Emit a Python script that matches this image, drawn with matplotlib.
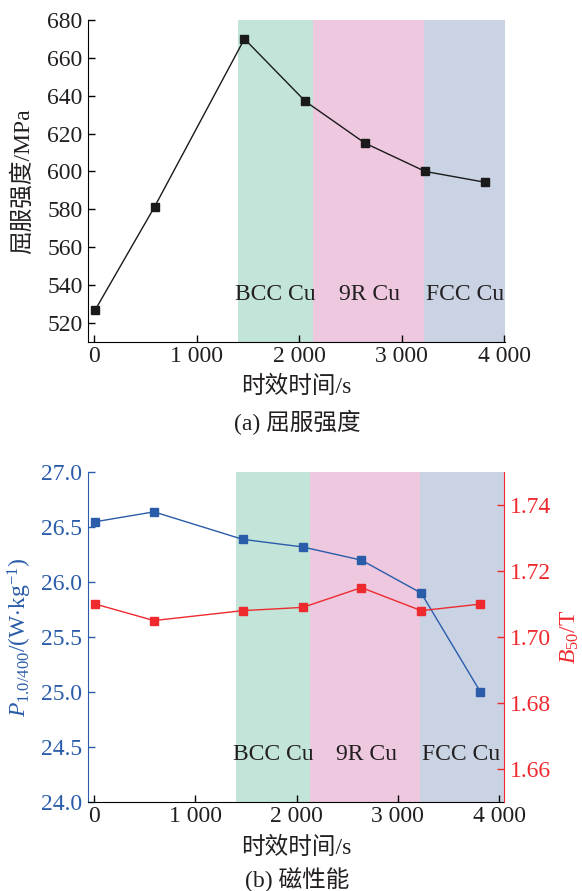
import matplotlib
matplotlib.use("Agg")
import matplotlib.pyplot as plt

# Fonts: serif for latin text, CJK fallback for Chinese
plt.rcParams['font.family'] = ['Liberation Serif', 'Noto Sans CJK SC']
plt.rcParams['font.size'] = 17
plt.rcParams['mathtext.fontset'] = 'custom'
plt.rcParams['mathtext.rm'] = 'Liberation Serif'
plt.rcParams['mathtext.it'] = 'Liberation Serif:italic'
plt.rcParams['axes.unicode_minus'] = False

# Data
# ----
aging_time = [10, 590, 1465, 2060, 2640, 3230, 3815]
yield_strength = [527, 581.5, 670, 637, 615, 600, 594.3]
core_loss = [26.55, 26.64, 26.39, 26.32, 26.2, 25.9, 25.0]
b50 = [1.710, 1.705, 1.708, 1.709, 1.715, 1.708, 1.710]

x_ticks = [0, 1000, 2000, 3000, 4000]
x_tick_labels = ['0', '1 000', '2 000', '3 000', '4 000']

phase_names = ['BCC Cu', '9R Cu', 'FCC Cu']
phase_edges = [1405, 2130, 3215]
phase_label_x = [1770, 2685, 3620]
phase_colors = ['#c2e4d9', '#edc8de', '#c9d3e4']

blue = '#2a5caa'
red = '#ee2a2f'
ink = '#231f20'


def shade_phases(ax, x_end, label_y):
    edges = phase_edges + [x_end]
    for i in range(3):
        ax.axvspan(edges[i], edges[i + 1], color=phase_colors[i], lw=0, zorder=0)
        ax.text(phase_label_x[i], label_y, phase_names[i], ha='center',
                va='center', color=ink, zorder=1)


def style_x(ax, label_y):
    ax.set_xticks(x_ticks)
    ax.set_xticklabels(x_tick_labels)
    ax.set_xlabel('时效时间/s', color=ink)
    ax.xaxis.label.set_va('center')
    ax.xaxis.set_label_coords(0.5, label_y)
    ax.spines['top'].set_visible(False)
    ax.tick_params(direction='in', length=5, width=1, labelcolor=ink)
    ax.tick_params(axis='x', pad=3)
    ax.tick_params(axis='y', pad=4)


fig = plt.figure(figsize=(5.82, 8.91), dpi=100)

# (a) yield strength
# ------------------
ax1 = fig.add_axes([0.1512, 0.6162, 0.7165, 0.3614])
ax1.set_xlim(-61, 4007)
ax1.set_ylim(510, 680)
shade_phases(ax1, 4007, 535)
ax1.plot(aging_time, yield_strength, color='#1a1a1a', lw=1.0, marker='s',
         ms=5.5, zorder=3)
ax1.set_yticks(range(520, 681, 20))
ax1.set_ylabel('屈服强度/MPa', color=ink)
ax1.yaxis.label.set_va('center')
ax1.yaxis.set_label_coords(-0.156, 0.5)
ax1.spines['right'].set_visible(False)
style_x(ax1, -0.14)
fig.text(0.51, 1 - 422 / 891, '(a) 屈服强度', ha='center', va='center', color=ink)

# (b) magnetic properties
# -----------------------
ax2 = fig.add_axes([0.1512, 0.1002, 0.7153, 0.3697])
ax2.set_xlim(-62, 4051)
ax2.set_ylim(24.0, 27.0)
shade_phases(ax2, 4051, 24.43)
ax2.plot(aging_time, core_loss, color=blue, lw=1.0, marker='s', ms=5.5, zorder=3)
ax2.set_yticks([24.0, 24.5, 25.0, 25.5, 26.0, 26.5, 27.0])
ax2.set_yticklabels(['%.1f' % v for v in ax2.get_yticks()])
ax2.set_ylabel(r'$P_{\mathrm{1.0/400}}$/(W$\cdot$kg$^{-1}$)', color=blue)
ax2.yaxis.label.set_va('center')
ax2.yaxis.set_label_coords(-0.163, 0.5)
style_x(ax2, -0.1406)
ax2.spines['left'].set_color(blue)
ax2.spines['right'].set_visible(False)
ax2.tick_params(axis='y', colors=blue)

ax3 = ax2.twinx()
ax3.set_ylim(1.65, 1.75)
ax3.plot(aging_time, b50, color=red, lw=1.0, marker='s', ms=5.5, zorder=3)
ax3.set_yticks([1.66, 1.68, 1.70, 1.72, 1.74])
ax3.set_yticklabels(['%.2f' % v for v in ax3.get_yticks()])
ax3.set_ylabel(r'$B_{50}$/T', color=red)
ax3.yaxis.label.set_va('center')
ax3.yaxis.set_label_coords(1.158, 0.5)
ax3.spines['top'].set_visible(False)
ax3.spines['left'].set_visible(False)
ax3.spines['bottom'].set_visible(False)
ax3.spines['right'].set_color(red)
ax3.tick_params(axis='y', colors=red, direction='in', length=5, width=1, pad=4)
fig.text(0.51, 1 - 880 / 891, '(b) 磁性能', ha='center', va='center', color=ink)

fig.savefig('out.png', dpi=100)
